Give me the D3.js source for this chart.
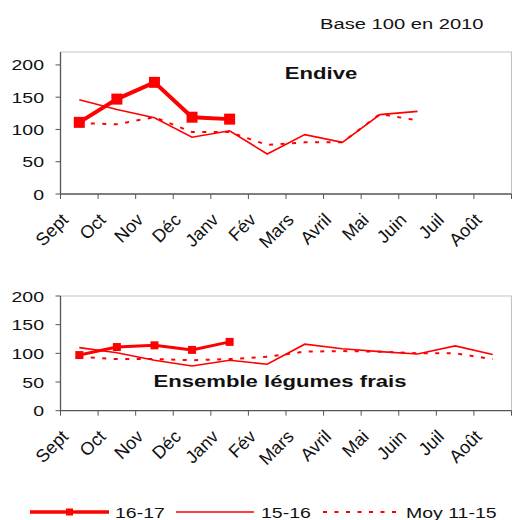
<!DOCTYPE html>
<html>
<head>
<meta charset="utf-8">
<script src="https://cdnjs.cloudflare.com/ajax/libs/d3/7.8.5/d3.min.js"></script>
<style>
	body { margin: 0; background: #fff; }
	svg { display: block; font-family: "Liberation Sans", Arial, sans-serif; }
</style>
</head>
<body>
<svg id="chart" width="512" height="520"></svg>
<script>
var months = ["Sept", "Oct", "Nov", "Déc", "Janv", "Fév", "Mars", "Avril", "Mai", "Juin", "Juil", "Août"];
var yTicks = [0, 50, 100, 150, 200];

// endive
var endive1617 = [111, 147, 173, 119, 116, null, null, null, null, null, null, null];
var endive1516 = [146, 131, 118, 88, 98, 62, 92, 80, 123, 128, null, null];
var endiveMoy = [110, 108, 119, 96, 96, 76, 80, 80, 124, 114, null, null];

// ensemble legumes frais
var ens1617 = [97, 111, 114, 106, 120, null, null, null, null, null, null, null];
var ens1516 = [110, 101, 88, 78, 88, 81, 116, 108, 103, 99, 113, 98];
var ensMoy = [94, 90, 90, 88, 90, 94, 103, 104, 103, 100, 100, 90];

var legendLabels = ["16-17", "15-16", "Moy 11-15"];

var svg = d3.select("#chart");
var red = "#ff0000";
var sx = 1.3; // text in the picture is stretched sideways

var x = d3.scaleBand()
	.domain(months)
	.range([60.5, 511.5]);

function stretch(px, py, k) {
	return "translate(" + px + "," + py + ") scale(" + (k || sx) + ",1)";
}

function drawPanel(opt) {
	var y = opt.y;
	var g = svg.append("g");
	var top = y.range()[1];
	var bottom = y.range()[0];
	var left = x.range()[0];
	var right = x.range()[1];

	// plot border (top / right)
	g.append("path")
		.attr("d", "M" + left + "," + top + "H" + right + "V" + bottom)
		.style("fill", "none")
		.style("stroke", "#c4c4c4")
		.style("stroke-width", 1.2);

	// y axis
	g.append("line")
		.attr("x1", left).attr("x2", left)
		.attr("y1", top).attr("y2", bottom)
		.style("stroke", "#555").style("stroke-width", 1.3);

	g.selectAll(".ytick")
		.data(yTicks)
	.enter().append("line")
		.attr("x1", left - 5).attr("x2", left)
		.attr("y1", (d) => y(d)).attr("y2", (d) => y(d))
		.style("stroke", "#555").style("stroke-width", 1);

	g.selectAll(".ylab")
		.data(yTicks)
	.enter().append("text")
		.attr("transform", (d) => stretch(44, y(d) + 5.5))
		.attr("text-anchor", "end")
		.style("font-size", "15px")
		.style("fill", "#111")
		.text((d) => d);

	// x axis
	g.append("line")
		.attr("x1", left).attr("x2", right)
		.attr("y1", bottom).attr("y2", bottom)
		.style("stroke", "#555").style("stroke-width", 1.3);

	var bounds = months.map((m) => x(m)).concat([right]);
	g.selectAll(".xtick")
		.data(bounds)
	.enter().append("line")
		.attr("x1", (d) => d).attr("x2", (d) => d)
		.attr("y1", bottom).attr("y2", bottom + 5)
		.style("stroke", "#555").style("stroke-width", 1);

	g.selectAll(".xlab")
		.data(months)
	.enter().append("text")
		.attr("transform", (d) => "translate(" + (x(d) + x.bandwidth() / 2 - 10) + "," + (bottom + 27) + ") rotate(-45)")
		.attr("text-anchor", "end")
		.style("font-size", "18px")
		.style("fill", "#111")
		.text((d) => d);

	var cx = (d, i) => x(months[i]) + x.bandwidth() / 2;
	var line = d3.line()
		.defined((d) => d !== null)
		.x(cx)
		.y((d) => y(d));

	g.append("path")
		.datum(opt.moy)
		.attr("d", line)
		.style("fill", "none")
		.style("stroke", red)
		.style("stroke-width", 2)
		.style("stroke-dasharray", "4,7.5");

	g.append("path")
		.datum(opt.prev)
		.attr("d", line)
		.style("fill", "none")
		.style("stroke", red)
		.style("stroke-width", 1.6);

	g.append("path")
		.datum(opt.cur)
		.attr("d", line)
		.style("fill", "none")
		.style("stroke", red)
		.style("stroke-width", opt.thick);

	var s = opt.marker;
	g.selectAll(".mark")
		.data(opt.cur.map((d, i) => ({ v: d, i: i })).filter((d) => d.v !== null))
	.enter().append("rect")
		.attr("x", (d) => cx(d.v, d.i) - s / 2)
		.attr("y", (d) => y(d.v) - s / 2)
		.attr("width", s)
		.attr("height", s)
		.style("fill", red);

	g.append("text")
		.attr("transform", stretch(opt.titleX, opt.titleY))
		.attr("text-anchor", "middle")
		.style("font-size", "17px")
		.style("font-weight", "bold")
		.style("fill", "#111")
		.text(opt.title);
}

drawPanel({
	y: d3.scaleLinear().domain([0, 220]).range([194, 52]),
	cur: endive1617, prev: endive1516, moy: endiveMoy,
	thick: 4, marker: 11,
	title: "Endive", titleX: 321, titleY: 79
});

drawPanel({
	y: d3.scaleLinear().domain([0, 200]).range([410.7, 296]),
	cur: ens1617, prev: ens1516, moy: ensMoy,
	thick: 3, marker: 8,
	title: "Ensemble légumes frais", titleX: 280, titleY: 387
});

svg.append("text")
	.attr("transform", stretch(320, 29))
	.style("font-size", "15.5px")
	.style("fill", "#111")
	.text("Base 100 en 2010");

// legend
var ly = 512;
var leg = svg.append("g");
var items = [
	{ x1: 30, x2: 109, tx: 115, w: 3.5, dash: null, marker: true },
	{ x1: 176, x2: 254, tx: 261, w: 1.6, dash: null, marker: false },
	{ x1: 323, x2: 397, tx: 406, w: 2, dash: "4,7.5", marker: false }
];
items.forEach((it, i) => {
	leg.append("line")
		.attr("x1", it.x1).attr("x2", it.x2)
		.attr("y1", ly).attr("y2", ly)
		.style("stroke", red)
		.style("stroke-width", it.w)
		.style("stroke-dasharray", it.dash);
	if (it.marker) {
		leg.append("rect")
			.attr("x", (it.x1 + it.x2) / 2 - 3.5)
			.attr("y", ly - 3.5)
			.attr("width", 7).attr("height", 7)
			.style("fill", red);
	}
	leg.append("text")
		.attr("transform", stretch(it.tx, ly + 5.5))
		.style("font-size", "15px")
		.style("fill", "#111")
		.text(legendLabels[i]);
});
</script>
</body>
</html>
